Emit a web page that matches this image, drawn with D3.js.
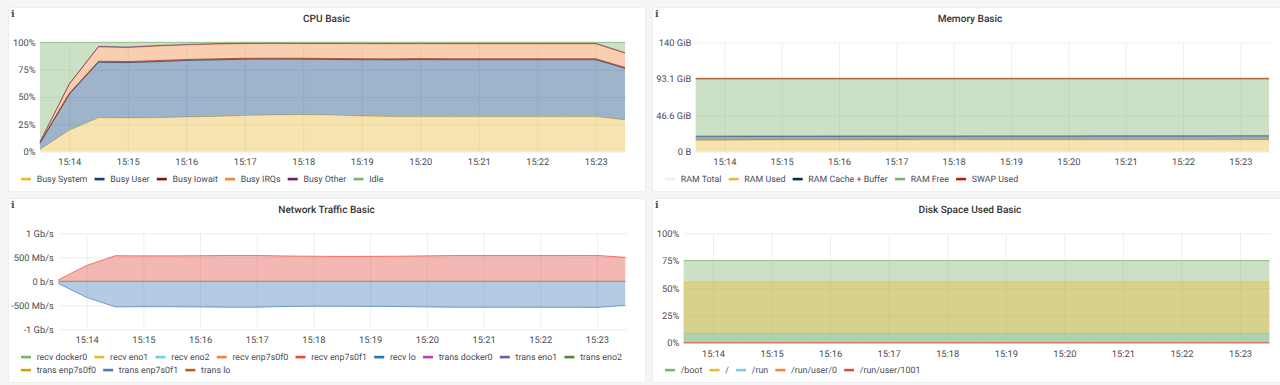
<!DOCTYPE html>
<html>
<head>
<meta charset="utf-8">
<script src="https://cdn.jsdelivr.net/npm/d3@7/dist/d3.min.js"></script>
<style>
html,body{margin:0;padding:0;background:#f4f5f5;overflow:hidden}
svg{display:block}
text{font-family:Roboto,"Noto Sans",sans-serif;text-rendering:geometricPrecision}
</style>
</head>
<body>
<svg id="c" width="1280" height="385"></svg>
<script>
const times = ["15:13:30","15:14:00","15:14:30","15:15:00","15:15:30","15:16:00","15:16:30","15:17:00","15:17:30","15:18:00","15:18:30","15:19:00","15:19:30","15:20:00","15:20:30","15:21:00","15:21:30","15:22:00","15:22:30","15:23:00","15:23:30"];
const xTicks = ["15:14","15:15","15:16","15:17","15:18","15:19","15:20","15:21","15:22","15:23"];

// CPU Basic (percent, stacked)
const cpuLabels = ["Busy System","Busy User","Busy Iowait","Busy IRQs","Busy Other","Idle"];
const cpuColors = ["#EAB839","#0A437C","#890F02","#EF843C","#6D1F62","#7EB26D"];
const cpuSystem = [2.0,19.5,31.0,30.7,31.0,31.7,32.2,33.0,33.6,33.8,33.4,32.6,32.0,32.0,32.0,32.0,32.0,32.0,32.0,32.0,29.0];
const cpuUser   = [5.5,32.9,50.7,50.7,51.3,51.7,51.8,51.5,51.0,50.7,50.9,51.5,52.0,52.2,52.1,52.1,52.1,52.1,52.1,52.1,47.2];
const cpuIowait = [1.0,1.0,1.0,1.0,1.0,0.9,0.9,0.9,0.9,0.9,0.9,0.9,0.9,0.9,0.9,0.9,0.9,0.9,0.9,0.9,0.8];
const cpuIrqs   = [0.3,8.1,13.0,12.7,13.2,13.2,13.3,13.3,13.3,13.3,13.5,13.6,13.6,13.5,13.5,13.5,13.5,13.5,13.5,13.5,13.0];
const cpuOther  = [0.2,0.5,0.6,0.6,0.6,0.6,0.6,0.6,0.6,0.6,0.6,0.6,0.6,0.6,0.6,0.6,0.6,0.6,0.6,0.6,0.5];
const cpuIdle   = [91.0,37.9,3.7,4.3,2.9,1.9,1.2,0.7,0.6,0.7,0.7,0.8,0.9,0.8,0.9,0.9,0.9,0.9,0.9,0.9,9.5];
const cpuTicks = [0,25,50,75,100];

// Memory Basic (GiB, stacked)
const memLabels = ["RAM Total","RAM Used","RAM Cache + Buffer","RAM Free","SWAP Used"];
const memColors = ["#E0F9D7","#EAB839","#052B51","#7EB26D","#BF1B00"];
const memTotal = [93.1,93.1,93.1,93.1,93.1,93.1,93.1,93.1,93.1,93.1,93.1,93.1,93.1,93.1,93.1,93.1,93.1,93.1,93.1,93.1,93.1];
const memUsed  = [14.6,14.6,14.7,14.8,14.8,14.9,14.9,14.9,15.0,15.0,15.1,15.1,15.1,15.1,15.2,15.2,15.2,15.2,15.2,15.2,15.2];
const memCache = [5.1,5.1,5.1,5.0,5.0,5.0,5.0,5.0,4.9,4.9,4.9,4.9,4.9,4.9,4.9,4.9,4.9,4.9,4.9,5.0,5.0];
const memFree  = [73.4,73.4,73.3,73.3,73.3,73.2,73.2,73.2,73.2,73.2,73.1,73.1,73.1,73.1,73.0,73.0,73.0,73.0,73.0,72.9,72.9];
const memSwap  = [0.4,0.4,0.4,0.4,0.4,0.4,0.4,0.4,0.4,0.4,0.4,0.4,0.4,0.4,0.4,0.4,0.4,0.4,0.4,0.4,0.4];
const memTicks = [0,46.57,93.13,139.7];
const memTickLabels = ["0 B","46.6 GiB","93.1 GiB","140 GiB"];

// Network Traffic Basic (Mb/s)
const netLabels = ["recv docker0","recv eno1","recv eno2","recv enp7s0f0","recv enp7s0f1","recv lo","trans docker0","trans eno1","trans eno2","trans enp7s0f0","trans enp7s0f1","trans lo"];
const netColors = ["#7EB26D","#EAB839","#6ED0E0","#EF843C","#E24D42","#1F78C1","#BA43A9","#705DA0","#508642","#CCA300","#447EBC","#C15C17"];
const netRecv  = [30,330,532,530,530,533,538,538,528,522,518,520,522,530,537,537,537,537,537,540,500];
const netTrans = [-45,-335,-532,-530,-530,-535,-540,-540,-525,-520,-520,-523,-525,-535,-540,-540,-540,-542,-542,-545,-500];
const netZero  = [0,0,0,0,0,0,0,0,0,0,0,0,0,0,0,0,0,0,0,0,0];
const netTicks = [-1000,-500,0,500,1000];
const netTickLabels = ["-1 Gb/s","-500 Mb/s","0 b/s","500 Mb/s","1 Gb/s"];

// Disk Space Used Basic (percent, overlaid)
const diskLabels = ["/boot","/","/run","/run/user/0","/run/user/1001"];
const diskColors = ["#7EB26D","#EAB839","#6ED0E0","#EF843C","#E24D42"];
const diskBoot = [75.2,75.2,75.2,75.2,75.2,75.2,75.2,75.2,75.2,75.2,75.2,75.2,75.2,75.2,75.2,75.2,75.2,75.2,75.2,75.2,75.2];
const diskRoot = [55.4,55.4,55.4,55.4,55.4,55.4,55.4,55.4,55.4,55.4,55.4,55.4,55.4,55.4,55.4,55.4,55.4,55.4,55.4,55.4,55.4];
const diskRun  = [8.6,8.6,8.6,8.6,8.6,8.6,8.6,8.6,8.6,8.6,8.6,8.6,8.6,8.6,8.6,8.6,8.6,8.6,8.6,8.6,8.6];
const diskUser = [0,0,0,0,0,0,0,0,0,0,0,0,0,0,0,0,0,0,0,0,0];

const parseT = d3.timeParse("%H:%M:%S");
const parseM = d3.timeParse("%H:%M");
const dates = times.map(parseT);
const svg = d3.select("#c");
const tickSize = "9.3px", legendSize = "8.85px";

function card(x, y, w, h, title, cx) {
  svg.append("rect").attr("x",x+.5).attr("y",y+.5).attr("width",w).attr("height",h)
    .attr("rx",2).attr("fill","#fff").attr("stroke","#eceef0");
  svg.append("text").attr("x",x+2.9).attr("y",y+9.6).text("i")
    .style("font-family","'DejaVu Serif',serif").style("font-weight",700).style("font-size","9.5px").attr("fill","#464c54");
  svg.append("text").attr("x",cx).attr("y",y+15).attr("text-anchor","middle").text(title)
    .style("font-weight",500).style("font-size","10.1px").attr("fill","#333");
}

function panel(o) {
  const x = d3.scaleTime().domain(d3.extent(dates)).range([o.x0,o.x1]);
  const y = d3.scaleLinear().domain(o.domain).range([o.y1,o.y0]);
  const grid = "#eeeeee";
  const gx = svg.append("g").attr("transform",`translate(0,${o.y1})`)
    .call(d3.axisBottom(x).tickValues(xTicks.map(parseM).map(t=>{const d=new Date(dates[0]);d.setHours(t.getHours(),t.getMinutes(),0);return d;}))
      .tickFormat(d3.timeFormat("%H:%M")).tickSize(-(o.y1-o.y0)).tickPadding(5));
  gx.select(".domain").remove();
  gx.selectAll("line").attr("stroke",grid);
  gx.selectAll("text").attr("fill","#464c54").style("font-size",tickSize).attr("dy","0.95em");
  const gy = svg.append("g").attr("transform",`translate(${o.x0},0)`)
    .call(d3.axisLeft(y).tickValues(o.ticks).tickFormat((d,i)=>o.tickLabels[i]).tickSize(-(o.x1-o.x0+2)).tickPadding(4.5));
  gy.select(".domain").remove();
  gy.selectAll("line").attr("stroke",grid);
  gy.selectAll("text").attr("fill","#464c54").style("font-size",tickSize);

  const area = d3.area().x((d,i)=>x(dates[i])).y0(d=>y(d[0])).y1(d=>y(d[1]));
  const line = d3.line().x((d,i)=>x(dates[i])).y(d=>y(d));
  o.bands.forEach(b=>{
    const lo = b.lower || dates.map(()=>o.base||0);
    if (b.fill!==0) svg.append("path").datum(b.upper.map((v,i)=>[lo[i],v])).attr("d",area).attr("fill",b.color).attr("fill-opacity",b.fill===undefined?0.4:b.fill);
    svg.append("path").datum(b.upper).attr("d",line).attr("fill","none").attr("stroke",b.color).attr("stroke-width",b.lw||1).attr("stroke-opacity",b.lo===undefined?0.7:b.lo);
  });

  let lx = o.legendX;
  o.legend.forEach(row=>{
    lx = o.legendX;
    row.items.forEach(it=>{
      svg.append("rect").attr("x",lx).attr("y",row.y-1.2).attr("width",10).attr("height",2.6).attr("fill",it.color);
      const t = svg.append("text").attr("x",lx+15.7).attr("y",row.y+3.3).text(it.label)
        .style("font-size",legendSize).attr("fill","#464c54");
      lx += 15.7 + t.node().getComputedTextLength() + 7.2;
    });
  });
}

function stack(arrs){ const out=[]; let run=dates.map(()=>0);
  arrs.forEach(a=>{ const next=run.map((r,i)=>r+a[i]); out.push({lower:run,upper:next}); run=next;}); return out; }
function items(labels,colors,from,to){ return labels.slice(from,to).map((l,i)=>({label:l,color:colors[from+i]})); }

card(8,7,637,184,"CPU Basic",326.5);
card(652,7,640,184,"Memory Basic",970);
card(8,198,637,184,"Network Traffic Basic",326.5);
card(652,198,640,184,"Disk Space Used Basic",970);

const cpuStack = stack([cpuSystem,cpuUser,cpuIowait,cpuIrqs,cpuOther,cpuIdle]);
panel({x0:40,x1:625,y0:42.3,y1:151.6,domain:[0,100],ticks:cpuTicks,tickLabels:cpuTicks.map(d=>d+"%"),
  bands:cpuStack.map((s,i)=>({...s,color:cpuColors[i]})),
  legendX:21,legend:[{y:179,items:items(cpuLabels,cpuColors,0,6)}]});

const memStack = stack([memUsed,memCache,memFree,memSwap]);
panel({x0:695.7,x1:1269,y0:42.3,y1:151.6,domain:[0,139.7],ticks:memTicks,tickLabels:memTickLabels,
  bands:[
    {upper:memTotal,color:memColors[0],fill:0,lo:0.8},
    {...memStack[0],color:memColors[1]},
    {...memStack[1],color:memColors[2]},
    {...memStack[2],color:memColors[3]},
    {...memStack[3],color:memColors[4],lw:1.4,lo:0.55}
  ],
  legendX:665,legend:[{y:179,items:items(memLabels,memColors,0,5)}]});

panel({x0:58.3,x1:625.3,y0:233.3,y1:329.3,domain:[-1000,1000],ticks:netTicks,tickLabels:netTickLabels,
  bands:[
    {upper:netRecv,color:netColors[4]},
    {upper:netTrans,color:netColors[10]},
    {upper:netZero,color:netColors[11],fill:0}
  ],
  legendX:21,legend:[{y:357,items:items(netLabels,netColors,0,9)},{y:370,items:items(netLabels,netColors,9,12)}]});

panel({x0:683.7,x1:1269.3,y0:233.3,y1:342.8,domain:[0,100],ticks:cpuTicks,tickLabels:cpuTicks.map(d=>d+"%"),
  bands:[
    {upper:diskBoot,color:diskColors[0]},
    {upper:diskRoot,color:diskColors[1]},
    {upper:diskRun,color:diskColors[2]},
    {upper:diskUser,color:diskColors[3],fill:0},
    {upper:diskUser,color:diskColors[4],fill:0}
  ],
  legendX:665,legend:[{y:370,items:items(diskLabels,diskColors,0,5)}]});
</script>
</body>
</html>
